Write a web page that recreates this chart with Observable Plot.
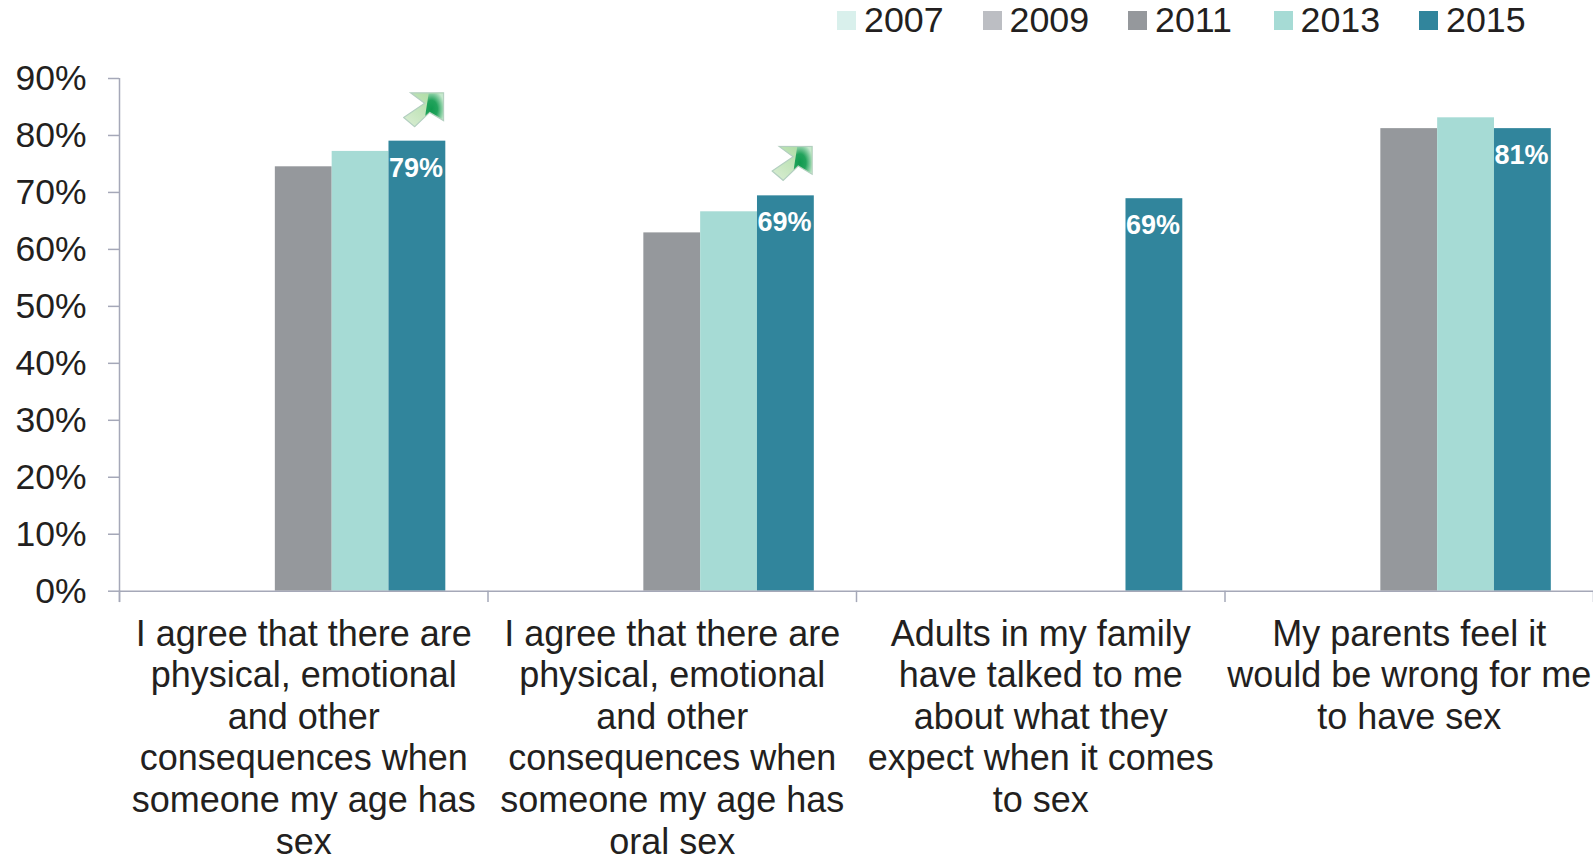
<!DOCTYPE html>
<html>
<head>
<meta charset="utf-8">
<script src="https://cdn.jsdelivr.net/npm/d3@7"></script>
<script src="https://cdn.jsdelivr.net/npm/@observablehq/plot@0.6"></script>
<style>
html,body{margin:0;padding:0;background:#fff;overflow:hidden}
#legend{position:relative;height:48px;width:1593px;font:35.8px "Liberation Sans",Arial,sans-serif;color:#231f20}
#legend .item{position:absolute;top:0;display:flex;align-items:center;height:40px}
#legend i{display:block;width:19px;height:19px;margin-right:8px}
svg{display:block}
</style>
</head>
<body>
<div id="legend"></div>
<div id="chart"></div>
<script>
const categories = [
  "I agree that there are\nphysical, emotional\nand other\nconsequences when\nsomeone my age has\nsex",
  "I agree that there are\nphysical, emotional\nand other\nconsequences when\nsomeone my age has\noral sex",
  "Adults in my family\nhave talked to me\nabout what they\nexpect when it comes\nto sex",
  "My parents feel it\nwould be wrong for me\nto have sex"
];
const years = ["2007","2009","2011","2013","2015"];
const colors = ["#d9f0ec","#bcbec3","#95989c","#a6dbd5","#31859c"];
const values2011 = [74.5, 62.9, null, 81.2];
const values2013 = [77.2, 66.6, null, 83.1];
const values2015 = [79.0, 69.4, 68.9, 81.2];
const labels2015 = ["79%","69%","69%","81%"];
const arrowCategories = [0, 1];
const arrowHeights = [84.5, 75.1];
const yTicks = [0,10,20,30,40,50,60,70,80,90];

const groupGap = 0.1145, barStep = (1 - 2 * groupGap) / years.length;
const barLeft = (c, s) => c + groupGap + s * barStep;

const rows = [];
[[2, values2011], [3, values2013], [4, values2015]].forEach(([s, vals]) => {
  vals.forEach((v, c) => {
    if (v != null) rows.push({year: years[s], x1: barLeft(c, s), x2: barLeft(c, s + 1), value: v});
  });
});
const labelRows = values2015.map((v, c) => ({x: barLeft(c, 4.5), value: v, label: labels2015[c]}));
const catRows = categories.map((t, c) => ({x: c + 0.5, t}));

const arrowSvg = `<svg xmlns="http://www.w3.org/2000/svg" viewBox="0 0 42 35">
<defs>
<linearGradient id="a" x1="0" y1="1" x2="1" y2="0"><stop offset="0" stop-color="#dbeed5"/><stop offset="1" stop-color="#a6d99c"/></linearGradient>
<radialGradient id="b" cx="0.35" cy="0.6" r="0.75"><stop offset="0" stop-color="#0f9a4e"/><stop offset="0.45" stop-color="#22a35c"/><stop offset="1" stop-color="#c5e8cd"/></radialGradient>
</defs>
<path d="M8 1 L41 1 L41 28 L27 20 L12 34 L1 25 L22 11 Z" fill="url(#a)" stroke="#b3cfc0" stroke-width="1.2"/>
<path d="M26 1.6 L40.4 1.6 L40.4 27 L27 19.4 L22.5 23.6 Z" fill="url(#b)"/>
</svg>`;
const arrowSrc = "data:image/svg+xml," + encodeURIComponent(arrowSvg);
const arrowRows = arrowCategories.map((c, i) => ({x: barLeft(c, 4.61), y: arrowHeights[i]}));

const axisColor = "#a5a8b8";
const ink = "#231f20";
const font = '"Liberation Sans", Arial, sans-serif';

const plot = Plot.plot({
  width: 1593,
  height: 809,
  marginLeft: 119,
  marginRight: 0,
  marginTop: 30,
  marginBottom: 266.3,
  style: {fontFamily: font, background: "#fff", overflow: "visible"},
  x: {type: "linear", domain: [0, 4], axis: null},
  y: {domain: [0, 90], axis: null},
  color: {domain: years, range: colors},
  marks: [
    Plot.rectY(rows, {x1: "x1", x2: "x2", y: "value", fill: "year"}),
    Plot.ruleY([0], {stroke: axisColor, strokeWidth: 1.5}),
    Plot.ruleX([0], {y1: -2, y2: 90, stroke: axisColor, strokeWidth: 1.5}),
    Plot.ruleX(d3.range(0, 5), {y1: -2, y2: 0, stroke: axisColor, strokeWidth: 1.5}),
    Plot.axisY({
      ticks: yTicks, tickSize: 11, tickPadding: 22, stroke: axisColor, strokeWidth: 1.5,
      tickFormat: d => d + "%", fontSize: 35.5, fill: ink, anchor: "left", label: null
    }),
    Plot.text(catRows, {
      x: "x", y: 0, text: "t", lineAnchor: "top", textAnchor: "middle", dy: 25,
      fontSize: 36, lineHeight: 1.155, fill: ink
    }),
    Plot.text(labelRows, {
      x: "x", y: "value", text: "label", lineAnchor: "middle", dy: 27, dx: -1.5,
      fontSize: 27, fontWeight: "bold", fill: "#fff", textAnchor: "middle"
    }),
    Plot.image(arrowRows, {x: "x", y: "y", src: () => arrowSrc, width: 42, height: 36, preserveAspectRatio: "none"})
  ]
});
document.getElementById("chart").appendChild(plot);

const legend = document.getElementById("legend");
years.forEach((yr, i) => {
  const d = document.createElement("div");
  d.className = "item";
  d.style.left = (837 + i * 145.5) + "px";
  d.innerHTML = `<i style="background:${colors[i]}"></i><span>${yr}</span>`;
  legend.appendChild(d);
});
</script>
</body>
</html>
